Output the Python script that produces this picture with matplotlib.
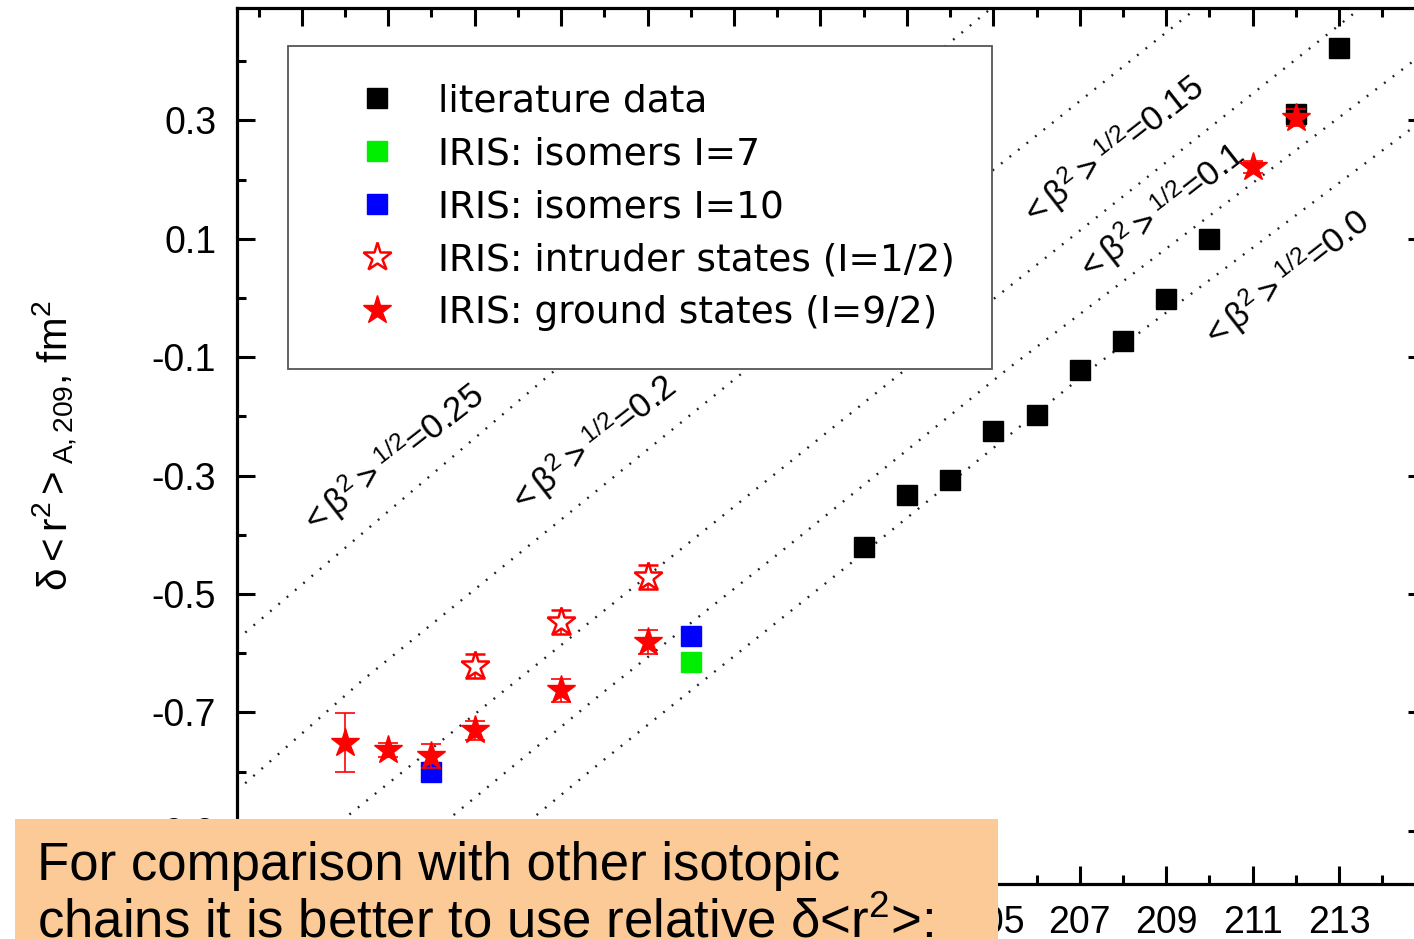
import numpy as np
import matplotlib
matplotlib.use("Agg")
from matplotlib import pyplot as plt
from matplotlib.patches import Rectangle
from matplotlib.lines import Line2D
from matplotlib.ticker import FixedLocator, AutoMinorLocator

plt.rcParams["font.family"] = ["Liberation Sans", "DejaVu Sans"]
plt.rcParams["mathtext.fontset"] = "custom"
plt.rcParams["mathtext.rm"] = "Liberation Sans"
plt.rcParams["mathtext.it"] = "Liberation Sans:italic"
plt.rcParams["mathtext.bf"] = "Liberation Sans:bold"
plt.rcParams["mathtext.default"] = "regular"
plt.rcParams["axes.unicode_minus"] = False

# literature data
lit_A = [202, 203, 204, 205, 206, 207, 208, 209, 210, 212, 213]
lit_dr2 = [-0.421, -0.333, -0.308, -0.225, -0.197, -0.121, -0.072, -0.001, 0.100, 0.311, 0.423]

# IRIS isomers
iso7_A = [198]
iso7_dr2 = [-0.615]
iso10_A = [192, 198]
iso10_dr2 = [-0.801, -0.571]

# IRIS intruder states (I=1/2)
intr_A = [193, 195, 197]
intr_dr2 = [-0.622, -0.547, -0.471]
intr_err = [0.02, 0.02, 0.02]

# IRIS ground states (I=9/2)
gs_A = [190, 191, 192, 193, 195, 197, 211, 212]
gs_dr2 = [-0.751, -0.764, -0.774, -0.730, -0.663, -0.581, 0.221, 0.305]
gs_err = [0.05, 0.012, 0.02, 0.016, 0.019, 0.02, 0.01, 0.015]

# iso-deformation lines <beta^2>^1/2
beta_labels = ["0.25", "0.2", "0.15", "0.1", "0.0"]
beta_A = [
    [187.5, 194.58, 204.94],
    [187.5, 190.40, 204.99, 209.69],
    [188.17, 189.99, 205.0, 213.48],
    [190.57, 192.42, 195.89, 200.13, 205.38, 215.0],
    [192.49, 194.34, 195.89, 201.84, 207.31, 215.0],
]
beta_dr2 = [
    [-0.577, -0.139, 0.489],
    [-0.832, -0.646, 0.216, 0.489],
    [-0.99, -0.879, -0.002, 0.489],
    [-0.99, -0.879, -0.671, -0.426, -0.117, 0.416],
    [-0.99, -0.879, -0.786, -0.440, -0.117, 0.304],
]
label_A = [191.07, 195.70, 207.74, 208.85, 211.75]
label_dr2 = [-0.271, -0.246, 0.249, 0.145, 0.033]

x_major = [189, 191, 193, 195, 197, 199, 201, 203, 205, 207, 209, 211, 213]
x_labels = ["", "", "", "", "", "", "", "", "205", "207", "209", "211", "213"]
y_major = [-0.9, -0.7, -0.5, -0.3, -0.1, 0.1, 0.3]

fig = plt.figure(figsize=(14.14, 9.39), dpi=100)
ax = fig.add_axes([237 / 1414, 55 / 939, 1188.6 / 1414, 876 / 939])

for xs, ys in zip(beta_A, beta_dr2):
    ax.plot(xs, ys, color="#222222", lw=1.7, dashes=(0.8, 3.8), zorder=1)
for xa, ya, lab in zip(label_A, label_dr2, beta_labels):
    ax.text(xa, ya, r"${<}\beta^2{>}^{1/2}$=" + lab, fontsize=25, rotation=38,
            ha="center", va="center", rotation_mode="anchor")

ax.plot(lit_A, lit_dr2, "s", color="black", ms=14, zorder=3)
ax.plot(iso7_A, iso7_dr2, "s", color="#00ee00", ms=14, zorder=3)
ax.plot(iso10_A, iso10_dr2, "s", color="blue", ms=14, zorder=3)
ax.errorbar(intr_A, intr_dr2, yerr=intr_err, fmt="*", color="red", mfc="white",
            mec="red", mew=1.8, ms=21, capsize=7, elinewidth=1.2, capthick=1.2, zorder=4)
ax.errorbar(gs_A, gs_dr2, yerr=gs_err, fmt="*", color="red", ms=21,
            capsize=7, elinewidth=1.2, capthick=1.2, zorder=4)

ax.set_xlim(187.5, 215)
ax.set_ylim(-0.99, 0.49)
ax.xaxis.set_major_locator(FixedLocator(x_major))
ax.set_xticklabels(x_labels)
ax.yaxis.set_major_locator(FixedLocator(y_major))
ax.xaxis.set_minor_locator(AutoMinorLocator(2))
ax.yaxis.set_minor_locator(AutoMinorLocator(2))
ax.tick_params(which="both", direction="in", top=True, right=True, width=2.2, labelsize=27)
ax.tick_params(which="major", length=13, pad=15)
ax.tick_params(which="minor", length=6.5)
for s in ax.spines.values():
    s.set_linewidth(2.3)

ax.set_ylabel(r"$\delta{<}r^2{>}_{A,209}$, fm$^2$", fontsize=29)
ax.yaxis.set_label_coords(-0.132, 0.5)

handles = [
    Line2D([], [], ls="none", marker="s", color="black", ms=14),
    Line2D([], [], ls="none", marker="s", color="#00ee00", ms=14),
    Line2D([], [], ls="none", marker="s", color="blue", ms=14),
    Line2D([], [], ls="none", marker="*", mfc="white", mec="red", mew=1.8, ms=21),
    Line2D([], [], ls="none", marker="*", color="red", ms=21),
]
labels = ["literature data", "IRIS: isomers I=7", "IRIS: isomers I=10",
          "IRIS: intruder states (I=1/2)", "IRIS: ground states (I=9/2)"]
leg = ax.legend(handles, labels, loc="upper left", bbox_to_anchor=(0.0429, 0.9566),
                borderaxespad=0, fancybox=False, framealpha=1, edgecolor="#555555",
                prop={"family": "DejaVu Sans", "size": 27}, borderpad=1.0,
                handlelength=2.75, handletextpad=0.25, labelspacing=0.45, numpoints=1)
leg.get_frame().set_linewidth(1.3)
leg.set_zorder(5)

box = Rectangle((15 / 1414, 0), 983 / 1414, 120 / 939, transform=fig.transFigure,
                facecolor="#fcca96", edgecolor="none", zorder=10)
fig.patches.append(box)
fig.text(37 / 1414, (939 - 880) / 939, "For comparison with other isotopic", fontsize=38,
         ha="left", va="baseline", zorder=11)
fig.text(37 / 1414, (939 - 938) / 939, r"chains it is better to use relative δ<r$^2$>:",
         fontsize=38, ha="left", va="baseline", zorder=11)

fig.savefig("out.png", dpi=100)
